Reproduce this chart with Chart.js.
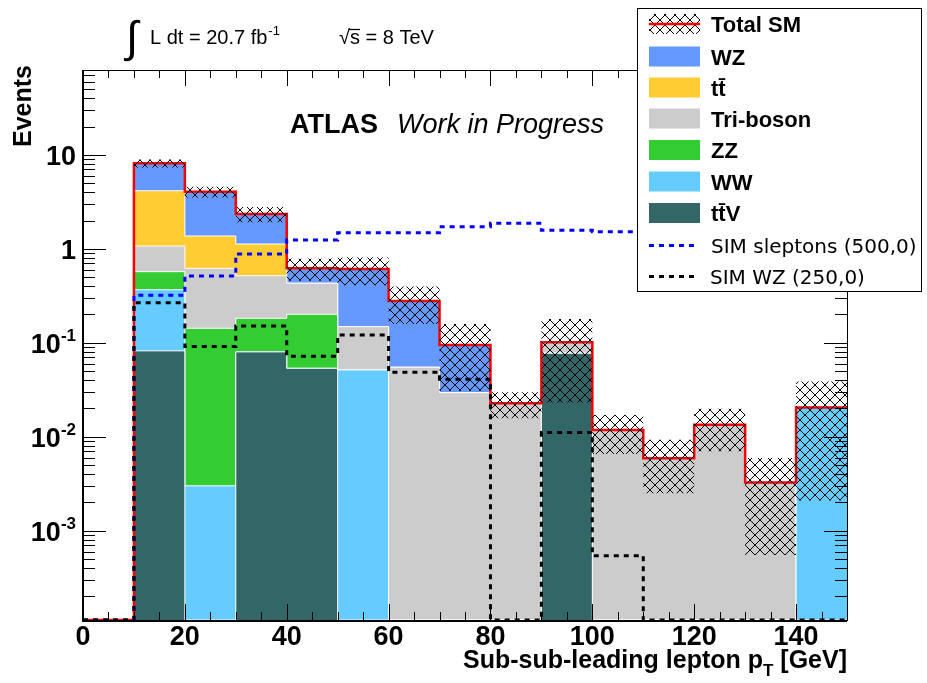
<!DOCTYPE html>
<html>
<head>
<meta charset="utf-8">
<script src="https://cdn.jsdelivr.net/npm/chart.js@4/dist/chart.umd.min.js"></script>
<style>
  html, body { margin: 0; padding: 0; background: #ffffff; }
  #wrap { width: 927px; height: 683px; position: relative; }
</style>
</head>
<body>
<div id="wrap"><canvas id="plot" width="927" height="683"></canvas></div>
<script>
// Bin edges of the sub-sub-leading lepton pT histogram [GeV]
const binEdges = [0, 10, 20, 30, 40, 50, 60, 70, 80, 90, 100, 110, 120, 130, 140, 150];

// Expected events per bin for each Standard Model background
const ttV      = [0, 0.082, 0,      0.080, 0.0535, 0,      0,      0,      0,      0.0773, 0,      0,      0,      0,       0];
const WW       = [0, 0.285, 0.0030, 0,     0,      0.0514, 0,      0,      0,      0,      0,      0,      0,      0,       0.0204];
const ZZ       = [0, 0.204, 0.1396, 0.102, 0.1475, 0,      0,      0,      0,      0,      0,      0,      0,      0,       0];
const triBoson = [0, 0.499, 0.477,  0.335, 0.229,  0.097,  0.0549, 0.0294, 0.0227, 0.0239, 0.0118, 0.0059, 0.0134, 0.00325, 0];
const ttbar    = [0, 3.08,  0.75,   0.608, 0,      0,      0,      0,      0,      0,      0,      0,      0,      0,       0];
const WZ       = [0, 3.97,  2.68,   1.225, 0.19,   0.462,  0.223,  0.0653, 0,      0,      0,      0,      0,      0,       0];

// Absolute uncertainty on the total SM prediction
const smUncertainty = [0, 0.78, 0.525, 0.43, 0.162, 0.20, 0.12, 0.064, 0.0070, 0.078, 0.00525, 0.0034, 0.0064, 0.0027, 0.0183];

// Signal samples
const simSleptons = [0, 0.320, 0.514, 0.880, 1.24, 1.48, 1.48, 1.72, 1.87, 1.58, 1.52, 1.50, 1.46, 1.42, 1.38];
const simWZ       = [0, 0.267, 0.091, 0.151, 0.072, 0.121, 0.0485, 0.0409, 0, 0.0111, 0.00054, 0, 0, 0, 0];

// Axis ticks and labels
const xTickValues = [0, 20, 40, 60, 80, 100, 120, 140];
const xTickLabels = ['0', '20', '40', '60', '80', '100', '120', '140'];
const yTickValues = [1e-3, 1e-2, 1e-1, 1, 10];
const yTickBases  = ['10', '10', '10', '1', '10'];
const yTickExps   = ['-3', '-2', '-1', '', ''];

const X_MIN = 0, X_MAX = 150;
const Y_MIN = 1.12e-4, Y_MAX = 80;
const X_MINOR_STEP = 5;

const COLORS = {
  WZ: '#6699ff', ttbar: '#ffcc33', tri: '#cccccc', ZZ: '#33cc33', WW: '#66ccff', ttV: '#336666'
};

// Stack from bottom to top
const stackParts = [
  { key: 'ttV', values: ttV, color: COLORS.ttV },
  { key: 'WW', values: WW, color: COLORS.WW },
  { key: 'ZZ', values: ZZ, color: COLORS.ZZ },
  { key: 'tri', values: triBoson, color: COLORS.tri },
  { key: 'ttbar', values: ttbar, color: COLORS.ttbar },
  { key: 'WZ', values: WZ, color: COLORS.WZ }
];

// Cumulative sums for the stacked display
const cumulative = [];
stackParts.reduce((acc, part) => {
  const sum = acc.map((a, i) => a + part.values[i]);
  cumulative.push(sum);
  return sum;
}, binEdges.slice(1).map(() => 0));
const totalSM = cumulative[cumulative.length - 1];
const bandHigh = totalSM.map((t, i) => t + smUncertainty[i]);
const bandLow = totalSM.map((t, i) => t - smUncertainty[i]);

// Histogram contents -> step points on the bin edges (empty bins sit on the frame floor)
function steps(values) {
  const pts = values.map((v, i) => ({ x: binEdges[i], y: Math.max(v, Y_MIN) }));
  pts.push({ x: binEdges[binEdges.length - 1], y: Math.max(values[values.length - 1], Y_MIN) });
  return pts;
}

function makeHatch() {
  const c = document.createElement('canvas');
  c.width = 10; c.height = 10;
  const g = c.getContext('2d');
  g.strokeStyle = '#000000';
  g.lineWidth = 1;
  g.beginPath();
  for (const o of [-10, 0, 10]) {
    g.moveTo(o, 0); g.lineTo(o + 10, 10);
    g.moveTo(o + 10, 0); g.lineTo(o, 10);
  }
  g.stroke();
  return g.createPattern(c, 'repeat');
}
const hatch = makeHatch();

const stepLine = { stepped: true, pointRadius: 0, tension: 0, borderJoinStyle: 'miter', borderCapStyle: 'butt' };

const datasets = [
  Object.assign({ label: 'SIM WZ (250,0)', data: steps(simWZ), borderColor: '#000000', borderWidth: 3, borderDash: [5, 5], fill: false, clip: false }, stepLine),
  Object.assign({ label: 'SIM sleptons (500,0)', data: steps(simSleptons), borderColor: '#0000ff', borderWidth: 3, borderDash: [5, 5], fill: false, clip: false }, stepLine),
  Object.assign({ label: 'band high', data: steps(bandHigh), borderWidth: 0, borderColor: 'rgba(0,0,0,0)', backgroundColor: hatch, fill: '+1' }, stepLine),
  Object.assign({ label: 'band low', data: steps(bandLow), borderWidth: 0, borderColor: 'rgba(0,0,0,0)', fill: false }, stepLine),
  Object.assign({ label: 'Total SM', data: steps(totalSM), borderColor: '#ff0000', borderWidth: 2.5, fill: false, clip: false }, stepLine)
];
// Stack histograms: smallest cumulative drawn last (on top)
for (let i = 0; i < stackParts.length; i++) {
  datasets.push(Object.assign({
    label: stackParts[i].key,
    data: steps(cumulative[i]),
    borderColor: '#ffffff',
    borderWidth: 1,
    backgroundColor: stackParts[i].color,
    fill: 'start'
  }, stepLine));
}

const FONT = '"Liberation Sans", Arial, Helvetica, sans-serif';

function drawSup(ctx, base, exp, xRight, yBase, size, supSize) {
  ctx.font = 'bold ' + size + 'px ' + FONT;
  const wb = ctx.measureText(base).width;
  ctx.font = 'bold ' + supSize + 'px ' + FONT;
  const we = exp ? ctx.measureText(exp).width : 0;
  const x0 = xRight - wb - we;
  ctx.font = 'bold ' + size + 'px ' + FONT;
  ctx.fillText(base, x0, yBase);
  if (exp) {
    ctx.font = 'bold ' + supSize + 'px ' + FONT;
    ctx.fillText(exp, x0 + wb, yBase - size * 0.42);
  }
}

const frameAxes = {
  id: 'frameAxes',
  afterDatasetsDraw(chart) {
    const { ctx, chartArea: a, scales: { x, y } } = chart;
    ctx.save();
    ctx.strokeStyle = '#000000';
    ctx.lineWidth = 1;
    ctx.beginPath();
    // x ticks, bottom and top, pointing inwards
    for (let v = X_MIN; v <= X_MAX; v += X_MINOR_STEP) {
      const px = Math.round(x.getPixelForValue(v)) + 0.5;
      const len = xTickValues.includes(v) ? 16 : 8;
      ctx.moveTo(px, a.bottom); ctx.lineTo(px, a.bottom - len);
      ctx.moveTo(px, a.top); ctx.lineTo(px, a.top + len);
    }
    // y ticks, left and right
    for (let e = -5; e <= 2; e++) {
      for (let m = 1; m <= 9; m++) {
        const v = m * Math.pow(10, e);
        if (v < Y_MIN || v > Y_MAX) continue;
        const py = Math.round(y.getPixelForValue(v)) + 0.5;
        const len = m === 1 ? 23 : 12;
        ctx.moveTo(a.left, py); ctx.lineTo(a.left + len, py);
        ctx.moveTo(a.right, py); ctx.lineTo(a.right - len, py);
      }
    }
    ctx.stroke();
    // frame
    ctx.lineWidth = 1;
    ctx.strokeRect(Math.round(a.left) + 0.5, Math.round(a.top) + 0.5, Math.round(a.right - a.left), Math.round(a.bottom - a.top));
    ctx.lineWidth = 2;
    ctx.beginPath();
    ctx.moveTo(a.left, a.top); ctx.lineTo(a.left, a.bottom + 1); ctx.lineTo(a.right, a.bottom + 1);
    ctx.stroke();

    // tick labels
    ctx.fillStyle = '#000000';
    ctx.textBaseline = 'alphabetic';
    ctx.font = 'bold 27px ' + FONT;
    ctx.textAlign = 'center';
    xTickValues.forEach((v, i) => {
      ctx.fillText(xTickLabels[i], x.getPixelForValue(v), 645);
    });
    ctx.textAlign = 'left';
    yTickValues.forEach((v, i) => {
      const py = y.getPixelForValue(v);
      drawSup(ctx, yTickBases[i], yTickExps[i], 76, py + 10, 27, 17);
    });

    // axis titles
    ctx.font = 'bold 25px ' + FONT;
    const t1 = 'Sub-sub-leading lepton p';
    const t2 = 'T';
    const t3 = ' [GeV]';
    const w1 = ctx.measureText(t1).width;
    const w3 = ctx.measureText(t3).width;
    ctx.font = 'bold 17px ' + FONT;
    const w2 = ctx.measureText(t2).width;
    let tx = a.right - w1 - w2 - w3;
    ctx.font = 'bold 25px ' + FONT;
    ctx.fillText(t1, tx, 668);
    ctx.font = 'bold 17px ' + FONT;
    ctx.fillText(t2, tx + w1, 676);
    ctx.font = 'bold 25px ' + FONT;
    ctx.fillText(t3, tx + w1 + w2, 668);

    ctx.save();
    ctx.translate(31, 65);
    ctx.rotate(-Math.PI / 2);
    ctx.textAlign = 'right';
    ctx.font = 'bold 25px ' + FONT;
    ctx.fillText('Events', 0, 0);
    ctx.restore();

    // experiment label
    ctx.textAlign = 'left';
    ctx.font = 'bold 27px ' + FONT;
    ctx.fillText('ATLAS', 290, 133);
    ctx.font = 'italic 27px ' + FONT;
    ctx.fillText('Work in Progress', 397, 133);

    // luminosity and energy
    ctx.font = '44px ' + FONT;
    ctx.fillText('\u222B', 126, 52);
    ctx.font = '20px ' + FONT;
    ctx.fillText('L dt = 20.7 fb', 150, 44);
    const wl = ctx.measureText('L dt = 20.7 fb').width;
    ctx.font = '13px ' + FONT;
    ctx.fillText('-1', 150 + wl + 1, 35);
    ctx.font = '20px ' + FONT;
    ctx.fillText('\u221A', 339, 44);
    const wr = ctx.measureText('\u221A').width;
    ctx.fillText('s = 8 TeV', 339 + wr, 44);
    const ws = ctx.measureText('s').width;
    ctx.lineWidth = 1.2;
    ctx.beginPath();
    ctx.moveTo(339 + wr - 1, 29.5); ctx.lineTo(339 + wr + ws, 29.5);
    ctx.stroke();
    ctx.restore();
  },
  afterDraw(chart) {
    const { ctx } = chart;
    ctx.save();
    // legend box
    const bx = 637, by = 8, bw = 284, bh = 283;
    ctx.fillStyle = '#ffffff';
    ctx.fillRect(bx, by, bw, bh);
    ctx.strokeStyle = '#000000';
    ctx.lineWidth = 1;
    ctx.strokeRect(bx + 0.5, by + 0.5, bw, bh);

    const rows = [24, 56.5, 87.5, 118.5, 150, 181.5, 213, 245.5, 276.5];
    const px0 = 649, pw = 51, ph = 20;
    // Total SM entry: hatched patch with red line
    ctx.fillStyle = hatch;
    ctx.fillRect(px0, rows[0] - 10, pw, ph);
    ctx.strokeStyle = '#ff0000';
    ctx.lineWidth = 2.5;
    ctx.beginPath(); ctx.moveTo(px0, rows[0]); ctx.lineTo(px0 + pw, rows[0]); ctx.stroke();

    const fillEntries = [
      ['WZ', COLORS.WZ], ['tt\u0304', COLORS.ttbar], ['Tri-boson', COLORS.tri],
      ['ZZ', COLORS.ZZ], ['WW', COLORS.WW], ['tt\u0304V', COLORS.ttV]
    ];
    fillEntries.forEach((en, i) => {
      ctx.fillStyle = en[1];
      ctx.fillRect(px0, rows[i + 1] - 10, pw, ph);
    });

    ctx.fillStyle = '#000000';
    ctx.textAlign = 'left';
    ctx.textBaseline = 'alphabetic';
    ctx.font = 'bold 22px ' + FONT;
    ctx.fillText('Total SM', 711, rows[0] + 8);
    fillEntries.forEach((en, i) => {
      ctx.fillText(en[0], 711, rows[i + 1] + 8);
    });

    ctx.lineWidth = 3;
    ctx.setLineDash([5, 5]);
    ctx.strokeStyle = '#0000ff';
    ctx.beginPath(); ctx.moveTo(px0, rows[7]); ctx.lineTo(px0 + 48, rows[7]); ctx.stroke();
    ctx.strokeStyle = '#000000';
    ctx.beginPath(); ctx.moveTo(px0, rows[8]); ctx.lineTo(px0 + 48, rows[8]); ctx.stroke();
    ctx.setLineDash([]);
    ctx.font = '20px "DejaVu Sans", sans-serif';
    ctx.fillText('SIM sleptons (500,0)', 711, rows[7] + 7);
    ctx.fillText('SIM WZ (250,0)', 710, rows[8] + 7);
    ctx.restore();
  }
};

new Chart(document.getElementById('plot').getContext('2d'), {
  type: 'line',
  data: { datasets },
  options: {
    responsive: false,
    animation: false,
    devicePixelRatio: 1,
    layout: { padding: { left: 83, top: 70, right: 80, bottom: 63 } },
    plugins: { legend: { display: false }, tooltip: { enabled: false } },
    scales: {
      x: { type: 'linear', min: X_MIN, max: X_MAX, display: false },
      y: { type: 'logarithmic', min: Y_MIN, max: Y_MAX, display: false }
    }
  },
  plugins: [frameAxes]
});
</script>
</body>
</html>
